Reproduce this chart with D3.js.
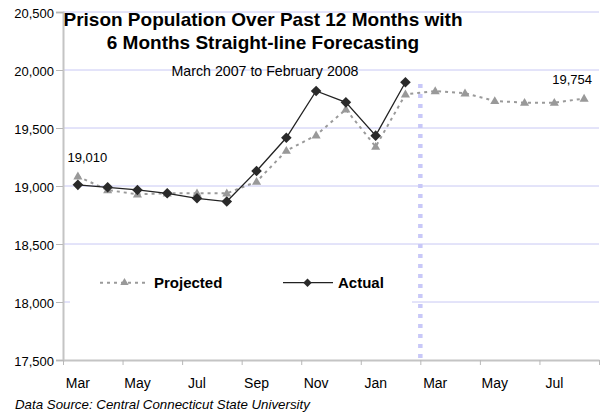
<!DOCTYPE html>
<html>
<head>
<meta charset="utf-8">
<script src="https://cdn.jsdelivr.net/npm/d3@7"></script>
<style>
  html, body { margin: 0; padding: 0; background: #fff; }
  svg { display: block; font-family: "Liberation Sans", Arial, sans-serif; }
</style>
</head>
<body>
<svg id="chart" width="600" height="412"></svg>
<script>
// ---- data ----
const categories = ["2007-03","2007-04","2007-05","2007-06","2007-07","2007-08","2007-09","2007-10","2007-11","2007-12","2008-01","2008-02","2008-03","2008-04","2008-05","2008-06","2008-07","2008-08"];
const monthLabels = ["Mar","Apr","May","Jun","Jul","Aug","Sep","Oct","Nov","Dec","Jan","Feb","Mar","Apr","May","Jun","Jul","Aug"];
const actual = [19010, 18989, 18966, 18937, 18894, 18866, 19129, 19416, 19819, 19721, 19434, 19894];
const projected = [19083, 18965, 18928, 18937, 18937, 18937, 19037, 19304, 19437, 19661, 19339, 19790, 19819, 19799, 19733, 19718, 19718, 19754];
const yTicks = [17500, 18000, 18500, 19000, 19500, 20000, 20500];
const titleLines = ["Prison Population Over Past 12 Months with", "6 Months Straight-line Forecasting"];
const subtitle = "March 2007 to February 2008";
const source = "Data Source: Central Connecticut State University";
const forecastStartIndex = 12;

(function () {
// ---- layout ----
const svg = d3.select("#chart");
const pLeft = 63, pRight = 599, pTop = 12, pBottom = 360;
const fmt = d3.format(",");

const x = d3.scaleBand().domain(categories).range([pLeft, pRight]).padding(0);
const xb = d3.scaleLinear().domain([0, categories.length]).range([pLeft, pRight]);
const y = d3.scaleLinear().domain([17500, 20500]).range([pBottom, pTop]);
const cx = d => x(d) + x.bandwidth() / 2;

// gridlines
svg.append("g").selectAll("line").data(yTicks.filter(t => t > 17500)).join("line")
  .attr("x1", pLeft).attr("x2", pRight)
  .attr("y1", d => y(d)).attr("y2", d => y(d))
  .attr("stroke", "#c8c8f4").attr("stroke-width", 1);

// forecast divider
svg.append("line")
  .attr("x1", xb(forecastStartIndex)).attr("x2", xb(forecastStartIndex))
  .attr("y1", y(19880)).attr("y2", pBottom)
  .attr("stroke", "#c8c8f8").attr("stroke-width", 4.5)
  .attr("stroke-dasharray", "4,6");

// y axis
const yAxis = svg.append("g").attr("transform", `translate(${pLeft},0)`)
  .call(d3.axisLeft(y).tickValues(yTicks).tickFormat(fmt).tickSize(7).tickPadding(2));
yAxis.select(".domain").attr("stroke", "#c4c4c4").attr("stroke-width", 2);
yAxis.selectAll(".tick line").attr("stroke", "#b8b8b8");
yAxis.selectAll("text").attr("font-size", 13).attr("fill", "#000").attr("dy", "0.4em")
  .attr("font-family", "Liberation Sans, Arial, sans-serif");

// x axis tick marks
const xAxisTicks = svg.append("g").attr("transform", `translate(0,${pBottom})`)
  .call(d3.axisBottom(xb).tickValues(d3.range(0, categories.length + 1, 2)).tickFormat("").tickSize(5).tickSizeOuter(0));
xAxisTicks.select(".domain").attr("stroke", "#c4c4c4").attr("stroke-width", 2);
xAxisTicks.selectAll(".tick line").attr("stroke", "#b8b8b8");

// x labels
const xAxisLabels = svg.append("g").attr("transform", `translate(0,${pBottom})`)
  .call(d3.axisBottom(x).tickValues(categories.filter((d, i) => i % 2 === 0))
    .tickFormat(d => monthLabels[categories.indexOf(d)]).tickSize(0).tickPadding(18));
xAxisLabels.select(".domain").remove();
xAxisLabels.selectAll("text").attr("font-size", 14).attr("fill", "#000")
  .attr("font-family", "Liberation Sans, Arial, sans-serif");

// projected series
const projLine = d3.line().x((d, i) => cx(categories[i])).y(d => y(d));
svg.append("path").datum(projected)
  .attr("d", projLine).attr("fill", "none")
  .attr("stroke", "#9a9a9a").attr("stroke-width", 2).attr("stroke-dasharray", "3,4");
const tri = d3.symbol().type(d3.symbolTriangle).size(36);
svg.append("g").selectAll("path").data(projected).join("path")
  .attr("d", tri)
  .attr("transform", (d, i) => `translate(${cx(categories[i])},${y(d) + 0.5})`)
  .attr("fill", "#999");

// actual series
const actLine = d3.line().x((d, i) => cx(categories[i])).y(d => y(d));
svg.append("path").datum(actual)
  .attr("d", actLine).attr("fill", "none")
  .attr("stroke", "#222").attr("stroke-width", 1.3);
const dia = d3.symbol().type(d3.symbolSquare).size(56);
svg.append("g").selectAll("path").data(actual).join("path")
  .attr("d", dia)
  .attr("transform", (d, i) => `translate(${cx(categories[i])},${y(d)}) rotate(45)`)
  .attr("fill", "#2a2a2a");

// data labels
svg.append("text")
  .attr("x", cx(categories[0]) + 9.5).attr("y", y(actual[0]) - 23)
  .attr("text-anchor", "middle").attr("font-size", 13).text(fmt(actual[0]));
const lastI = projected.length - 1;
svg.append("text")
  .attr("x", cx(categories[lastI]) - 12).attr("y", y(projected[lastI]) - 14.5)
  .attr("text-anchor", "middle").attr("font-size", 13).text(fmt(projected[lastI]));

// legend
const lg = svg.append("g");
lg.append("rect").attr("x", 70).attr("y", 252).attr("width", 342).attr("height", 64).attr("fill", "#fff");
const ly = 282.7;
lg.append("line").attr("x1", 100).attr("x2", 146).attr("y1", ly).attr("y2", ly)
  .attr("stroke", "#9a9a9a").attr("stroke-width", 2).attr("stroke-dasharray", "3,4");
lg.append("path").attr("d", d3.symbol().type(d3.symbolTriangle).size(30))
  .attr("transform", `translate(124.5,${ly})`).attr("fill", "#999");
lg.append("text").attr("x", 154).attr("y", ly + 5).attr("font-size", 15).attr("font-weight", "bold").text("Projected");
lg.append("line").attr("x1", 283).attr("x2", 333).attr("y1", ly).attr("y2", ly)
  .attr("stroke", "#222").attr("stroke-width", 1.3);
lg.append("path").attr("d", d3.symbol().type(d3.symbolSquare).size(36))
  .attr("transform", `translate(307.5,${ly}) rotate(45)`).attr("fill", "#2a2a2a");
lg.append("text").attr("x", 338).attr("y", ly + 5).attr("font-size", 15).attr("font-weight", "bold").text("Actual");

// titles
svg.append("text").attr("x", 263).attr("y", 25.5).attr("text-anchor", "middle")
  .attr("font-size", 19).attr("font-weight", "bold").text(titleLines[0]);
svg.append("text").attr("x", 263).attr("y", 49).attr("text-anchor", "middle")
  .attr("font-size", 19).attr("font-weight", "bold").text(titleLines[1]);
svg.append("text").attr("x", 265).attr("y", 75.5).attr("text-anchor", "middle")
  .attr("font-size", 14.2).text(subtitle);

// source
svg.append("text").attr("x", 15).attr("y", 409).attr("font-size", 13.3)
  .attr("font-style", "italic").text(source);
})();
</script>
</body>
</html>
